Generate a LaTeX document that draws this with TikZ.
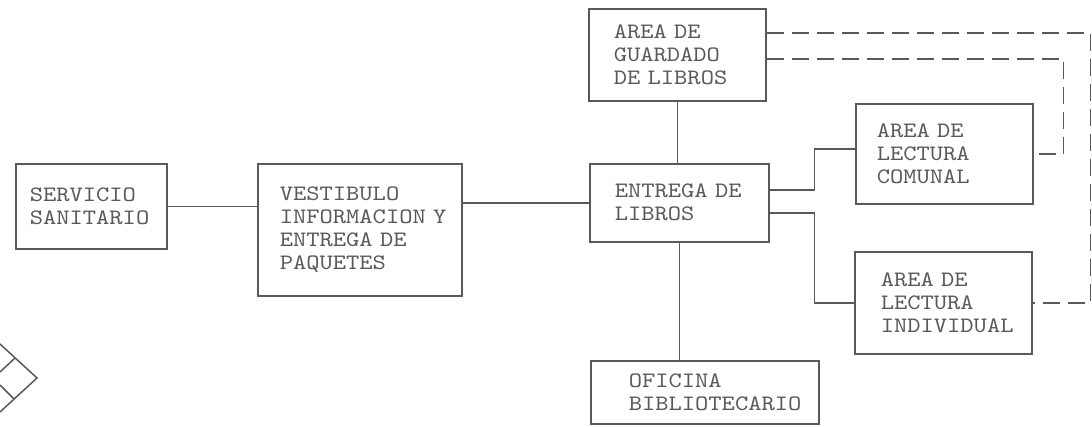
\documentclass[tikz,border=0pt]{standalone}
\usepackage{fontspec}
\usepackage{xcolor}
\usepackage{tikz}
\usetikzlibrary{positioning, arrows.meta}

\newfontfamily\maquina[FakeStretch=1.15]{lmmono10-regular.otf}
\definecolor{tinta}{gray}{0.35}
\hfuzz=40pt

\tikzset{
    linea/.style={draw=tinta, line width=1.5pt},
    caja/.style={linea, anchor=north west, align=left, text=tinta,
        font=\maquina\fontsize{22}{23}\selectfont},
    punteada/.style={linea, dash pattern=on 17pt off 8pt}
}

\begin{document}
\begin{tikzpicture}[x=1pt, y=-1pt]
    \useasboundingbox (0,0) rectangle (1092,426);

    % Areas
    \node[caja, inner xsep=14pt, text width=123pt, minimum height=85pt]  (sanit)   at (15,163)  {SERVICIO\\SANITARIO};
    \node[caja, inner xsep=22pt, text width=160pt, minimum height=132pt] (vest)    at (257,163) {VESTIBULO\\\mbox{INFORMACION Y}\\\mbox{ENTREGA DE}\\PAQUETES};
    \node[caja, inner xsep=25pt, text width=127pt, minimum height=92pt]  (guard)   at (588,8)   {AREA DE\\GUARDADO\\DE LIBROS};
    \node[caja, inner xsep=25pt, text width=129pt, minimum height=78pt]  (entrega) at (589,163) {\mbox{ENTREGA DE}\\LIBROS};
    \node[caja, inner xsep=21pt, text width=135pt, minimum height=100pt] (comunal) at (855,103) {AREA DE\\LECTURA\\COMUNAL};
    \node[caja, inner xsep=26pt, text width=125pt, minimum height=102pt] (indiv)   at (854,251) {AREA DE\\LECTURA\\\mbox{INDIVIDUAL}};
    \node[caja, inner xsep=38pt, text width=152pt, minimum height=63pt]  (ofic)    at (590,360) {OFICINA\\\mbox{BIBLIOTECARIO}};

    % Conexiones
    \draw[linea] (sanit.east) -- (sanit.east -| vest.west);
    \draw[linea] (vest.east |- entrega.west) -- (entrega.west);
    \draw[linea] (guard.south) -- (guard.south |- entrega.north);
    \draw[linea] (entrega.south) -- (entrega.south |- ofic.north);
    \draw[linea] ([yshift=13pt]entrega.east) -- ++(45,0) |- ([yshift=5pt]comunal.west);
    \draw[linea] ([yshift=-10pt]entrega.east) -- ++(45,0) |- (indiv.west);

    % Conexiones punteadas
    \draw[punteada] ([yshift=22pt]guard.east) -| ([xshift=58pt]indiv.east) -- (indiv.east);
    \draw[punteada] ([yshift=-4pt]guard.east) -| ([xshift=30pt]comunal.east) -- (comunal.east);

    % Rombos
    \draw[linea] (0,344) -- (37,378) -- (0,412);
    \draw[linea] (15,358) -- (0,372);
    \draw[linea] (14,399) -- (0,385);
\end{tikzpicture}
\end{document}
